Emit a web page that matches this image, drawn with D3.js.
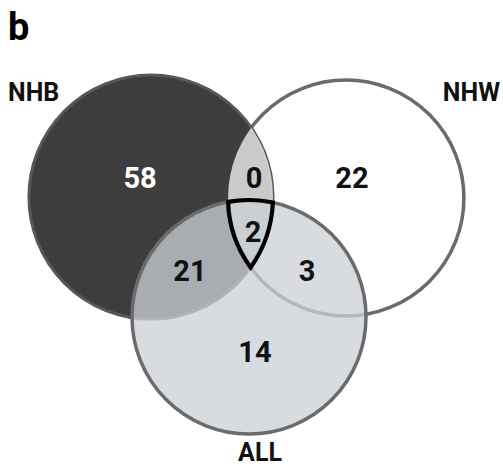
<!DOCTYPE html>
<html>
<head>
<meta charset="utf-8">
<script src="https://cdn.jsdelivr.net/npm/d3@7"></script>
<style>
  html, body { margin: 0; padding: 0; background: #fff; }
  svg { display: block; }
  text { font-family: Roboto, "Noto Sans", "DejaVu Sans", sans-serif; font-weight: 700; }
</style>
</head>
<body>
<svg id="chart" width="503" height="468"></svg>
<script>
// Sets and the counts of each exclusive region of the Venn diagram
const setNames = ["NHB", "NHW", "ALL"];
const regionKeys = ["NHB", "NHW", "ALL", "NHB&NHW", "NHB&ALL", "NHW&ALL", "NHB&NHW&ALL"];
const regionCounts = [58, 22, 14, 0, 21, 3, 2];
const panelLabel = "b";

// Layout in diagram units (radius ~ 1)
const circleLayout = {
  NHB: { cx: -0.817, cy: -0.508, r: 1.017 },
  NHW: { cx: 0.808, cy: -0.50, r: 0.983 },
  ALL: { cx: 0.0, cy: 0.492, r: 0.975 }
};
const regionLabelAt = {
  "NHB": [-0.908, -0.671],
  "NHW": [0.858, -0.667],
  "ALL": [0.05, 0.783],
  "NHB&NHW": [0.042, -0.667],
  "NHB&ALL": [-0.492, 0.104],
  "NHW&ALL": [0.483, 0.104],
  "NHB&NHW&ALL": [0.033, -0.217]
};
const setLabelAt = {
  NHB: { x: -2.008, y: -1.308, anchor: "start" },
  NHW: { x: 2.092, y: -1.308, anchor: "end" },
  ALL: { x: 0.092, y: 1.69, anchor: "middle" }
};

const svg = d3.select("#chart");
const unit = 120;
const x = d3.scaleLinear().domain([-1, 1]).range([249 - unit, 249 + unit]);
const y = d3.scaleLinear().domain([-1, 1]).range([258 - unit, 258 + unit]);
const rs = d3.scaleLinear().domain([0, 1]).range([0, unit]);

const C = {};
setNames.forEach(n => {
  const c = circleLayout[n];
  C[n] = { x: x(c.cx), y: y(c.cy), r: rs(c.r) };
});

const defs = svg.append("defs");
defs.append("clipPath").attr("id", "clipNHB")
  .append("circle").attr("cx", C.NHB.x).attr("cy", C.NHB.y).attr("r", C.NHB.r);

// NHW outline (sits under the NHB disc)
svg.append("circle")
  .attr("cx", C.NHW.x).attr("cy", C.NHW.y).attr("r", C.NHW.r)
  .attr("fill", "#fff").attr("stroke", "#6b6b6b").attr("stroke-width", 3.5);

// NHB disc
svg.append("circle")
  .attr("cx", C.NHB.x).attr("cy", C.NHB.y).attr("r", C.NHB.r)
  .attr("fill", "#3d3d3d").attr("stroke", "#585858").attr("stroke-width", 3);

// NHW translucent fill over NHB
svg.append("circle")
  .attr("clip-path", "url(#clipNHB)")
  .attr("cx", C.NHW.x).attr("cy", C.NHW.y).attr("r", C.NHW.r)
  .attr("fill", "#fff").attr("fill-opacity", 0.73);

// ALL translucent disc on top
svg.append("circle")
  .attr("cx", C.ALL.x).attr("cy", C.ALL.y).attr("r", C.ALL.r)
  .attr("fill", "rgb(204,208,213)").attr("fill-opacity", 0.76)
  .attr("stroke", "#6b6b6b").attr("stroke-width", 3.5);

// Intersection of two circles: returns both points
function intersect(a, b) {
  const dx = b.x - a.x, dy = b.y - a.y;
  const d = Math.hypot(dx, dy);
  const l = (d * d + a.r * a.r - b.r * b.r) / (2 * d);
  const h = Math.sqrt(Math.max(0, a.r * a.r - l * l));
  const mx = a.x + dx * l / d, my = a.y + dy * l / d;
  return [
    { x: mx + h * dy / d, y: my - h * dx / d },
    { x: mx - h * dy / d, y: my + h * dx / d }
  ];
}
function inside(p, c) { return Math.hypot(p.x - c.x, p.y - c.y) <= c.r + 0.5; }
function pick(a, b, c) { return intersect(a, b).find(p => inside(p, c)); }

// Outline of the region shared by all three sets
const p1 = pick(C.NHW, C.ALL, C.NHB);
const p2 = pick(C.NHB, C.ALL, C.NHW);
const p3 = pick(C.NHB, C.NHW, C.ALL);
const tri = `M${p1.x},${p1.y}` +
  `A${C.ALL.r},${C.ALL.r} 0 0 1 ${p2.x},${p2.y}` +
  `A${C.NHB.r},${C.NHB.r} 0 0 1 ${p3.x},${p3.y}` +
  `A${C.NHW.r},${C.NHW.r} 0 0 1 ${p1.x},${p1.y}Z`;
svg.append("path")
  .attr("d", tri)
  .attr("fill", "none").attr("stroke", "#000").attr("stroke-width", 4.2)
  .attr("stroke-linejoin", "miter").attr("stroke-miterlimit", 10);

// Region counts
svg.append("g").selectAll("text")
  .data(regionKeys.map((k, i) => ({ key: k, value: regionCounts[i] })))
  .join("text")
  .attr("x", d => x(regionLabelAt[d.key][0]))
  .attr("y", d => y(regionLabelAt[d.key][1]))
  .attr("dy", "0.36em")
  .attr("text-anchor", "middle")
  .attr("font-size", 29)
  .attr("fill", d => d.key === "NHB" ? "#fff" : "#111")
  .text(d => d.value);

// Set names
svg.append("g").selectAll("text")
  .data(setNames)
  .join("text")
  .attr("x", d => x(setLabelAt[d].x))
  .attr("y", d => y(setLabelAt[d].y))
  .attr("text-anchor", d => setLabelAt[d].anchor)
  .attr("font-size", 25)
  .attr("fill", "#111")
  .text(d => d);

// Panel letter
svg.append("text")
  .attr("x", 8).attr("y", 40)
  .attr("font-family", "'Liberation Sans', Arial, sans-serif")
  .attr("font-size", 38)
  .attr("fill", "#000")
  .text(panelLabel);
</script>
</body>
</html>
